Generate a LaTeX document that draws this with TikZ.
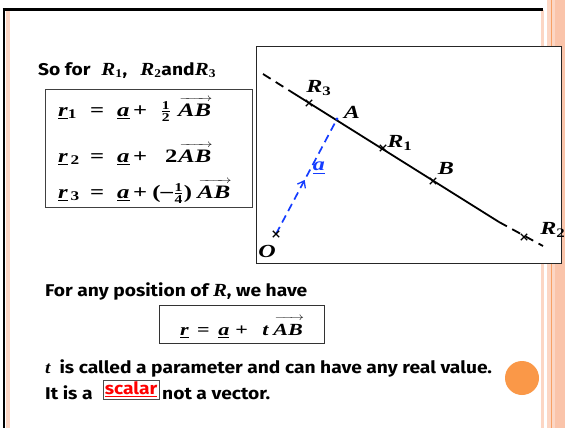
\documentclass[tikz,border=0pt]{standalone}
\usepackage{fontspec}
\usepackage{amsmath}
\usepackage{graphicx}
\setmainfont{Fira Sans}
\newfontfamily\tms{Liberation Serif}
\usetikzlibrary{arrows.meta,decorations.markings,calc}
\definecolor{paleor}{RGB}{252,214,196}
\definecolor{midor}{RGB}{250,196,170}
\definecolor{lineor}{RGB}{247,160,100}
\definecolor{dotor}{RGB}{250,152,72}
\definecolor{vecblue}{RGB}{20,60,255}
\newcommand{\mi}[1]{{\tms\bfseries\itshape #1}}
\newcommand{\mr}[1]{{\tms\bfseries #1}}
\newcommand{\vAB}[1]{\begingroup\setbox0=\hbox{\mi{AB}}\rlap{\kern1pt\raisebox{#1}{\hbox to \wd0{\fontsize{11}{11}\selectfont\rightarrowfill}}}\box0\endgroup}
\newcommand{\fr}[2]{$\genfrac{}{}{0.5pt}{}{\hbox{\fontsize{12}{12}\selectfont\tms\bfseries #1}}{\hbox{\fontsize{12}{12}\selectfont\tms\bfseries #2}}$}
\newcommand{\ul}[1]{$\underline{\hbox{\mi{#1}}}$}
\newcommand{\wx}[1]{\scalebox{1.3}[1]{#1}}
\newcommand{\ws}[1]{\scalebox{1.13}[1]{#1}}
\newcommand{\Rm}{{\fontsize{18.5}{18}\selectfont\mi{R}}}
\newcommand{\bx}[2]{\makebox[#1pt][l]{#2}}
\tikzset{
  txt/.style={font=\fontsize{17}{20}\selectfont\bfseries, inner sep=0pt, anchor=base west},
  eq/.style={font=\fontsize{19}{22}\selectfont\tms\bfseries, inner sep=0pt, anchor=base west},
  eqs/.style={font=\fontsize{17}{20}\selectfont\tms\bfseries, inner sep=0pt, anchor=base west},
  lbl/.style={font=\fontsize{18.5}{22}\selectfont\tms\bfseries\itshape, inner sep=0pt},
  frame/.style={draw=black!85, line width=1pt},
  xmark/.style={line width=1.3pt},
}
\newcommand{\crossat}[1]{\draw[xmark] ($(#1)+(-3.2,-3.2)$) -- ($(#1)+(3.2,3.2)$) ($(#1)+(-3.2,3.2)$) -- ($(#1)+(3.2,-3.2)$);}
\begin{document}
\begin{tikzpicture}[x=1pt,y=-1pt]
\useasboundingbox (0,0) rectangle (565,428);
\fill[white] (0,0) rectangle (565,428);
% slide borders
\fill[paleor] (5.5,10) rectangle (9.5,428);
\fill[paleor] (541,10) rectangle (544,428);
\fill[paleor] (547,0) rectangle (565,428);
\fill[midor] (555,0) rectangle (565,428);
\fill[lineor] (550.7,0) rectangle (552.2,428);
\draw[line width=3pt] (2.5,10) -- (543,10);
\draw[line width=2.5pt] (4,8.5) -- (4,428);
\fill[dotor] (522,378) circle (17);

% heading
\node[txt] (head) at (38,75) {\ws{\bx{56}{So for}\bx{34.5}{\Rm\textsubscript{\mr{1}},}\bx{18.6}{\Rm\textsubscript{\mr{2}}}\bx{29.5}{and}\Rm\textsubscript{\mr{3}}}};

% equation box
\draw[frame, draw=black!75] (45,89) rectangle (252,207);
\node[eq] (e1) at (58,116) {\wx{\bx{24.6}{\ul{r}\textsubscript{1}}\bx{20.8}{=}\bx{12.3}{\ul{a}}\bx{20.8}{+}\bx{13.8}{\fr{1}{2}}\vAB{15pt}}};
\node[eq] (e2) at (58,162) {\wx{\bx{24.6}{\ul{r}\textsubscript{\,2}}\bx{20.8}{=}\bx{12.3}{\ul{a}}\bx{24.6}{+}\bx{10.1}{2}\vAB{15pt}}};
\node[eq] (e3) at (58,198) {\wx{\bx{24.6}{\ul{r}\textsubscript{\,3}}\bx{20.8}{=}\bx{12.3}{\ul{a}}\bx{14.8}{+}\bx{34.6}{(\raisebox{0.5pt}{–}\fr{1}{4})}\vAB{15pt}}};

% diagram box
\draw[frame, fill=white] (256,47) rectangle (561,263);
\coordinate (E1) at (263,74);
\coordinate (S1) at (290,91);
\coordinate (S2) at (499,222);
\coordinate (E2) at (543,246);
\coordinate (A) at (337,119);
\coordinate (B) at (433,181);
\coordinate (R1) at (383,148);
\coordinate (R3) at (309,103);
\coordinate (R2) at (524,237);
\coordinate (O) at (276,234);
\draw[line width=1.8pt, dash pattern=on 9pt off 6pt] (E1) -- (S1);
\draw[line width=1.8pt, dash pattern=on 9pt off 6pt] (S2) -- (E2);
\draw[line width=1.8pt] (S1) -- (S2);
\draw[vecblue, line width=1.7pt, dash pattern=on 8pt off 5pt,
  postaction={decorate, decoration={markings, mark=at position 0.47 with {\arrow[solid, line width=1.3pt]{Straight Barb[length=6pt, width=9pt]}}}}]
  (O) -- (A);
\fill[vecblue] (A) circle (1.6);
\crossat{R3}\crossat{R1}\crossat{B}\crossat{R2}\crossat{O}
\node[lbl] (lR3) at (319,88) {\wx{R\textsubscript{\upshape 3}}};
\node[lbl] (lA) at (352,112) {\wx{A}};
\node[lbl] (lR1) at (400,143) {\wx{R\textsubscript{\upshape 1}}};
\node[lbl] (lB) at (446,168) {\wx{B}};
\node[lbl] (lR2) at (553,230) {\wx{R\textsubscript{\upshape 2}}};
\node[lbl] (lO) at (267,251) {\wx{O}};
\node[lbl, text=vecblue] (la) at (319,168) {\wx{\underline{a}}};

% bottom text
\node[txt] (any) at (45,296) {\ws{For any position of \Rm, we have}};
\draw[frame, draw=black!80] (159,305) rectangle (324,343);
\node[eqs] (eqr) at (180,335) {\wx{\bx{13.1}{\ul{r}}\bx{16.2}{=}\bx{13.1}{\ul{a}}\bx{20.8}{+}\bx{8.5}{\mi{t}}\vAB{14.5pt}}};
\node[txt] (par) at (45,373) {\ws{\mi{t}\hspace{8pt}is called a parameter and can have any real value.}};
\node[txt] (sc1) at (45,399) {\ws{It is a}};
\node[txt, draw=black!70, line width=0.8pt, inner sep=0pt, text=red, anchor=center, minimum width=56pt, minimum height=19pt] (sc) at (131,389.5) {\ws{\underline{scalar}}};
\node[txt] (sc2) at (162,399) {\ws{not a vector.}};
\end{tikzpicture}
\end{document}
